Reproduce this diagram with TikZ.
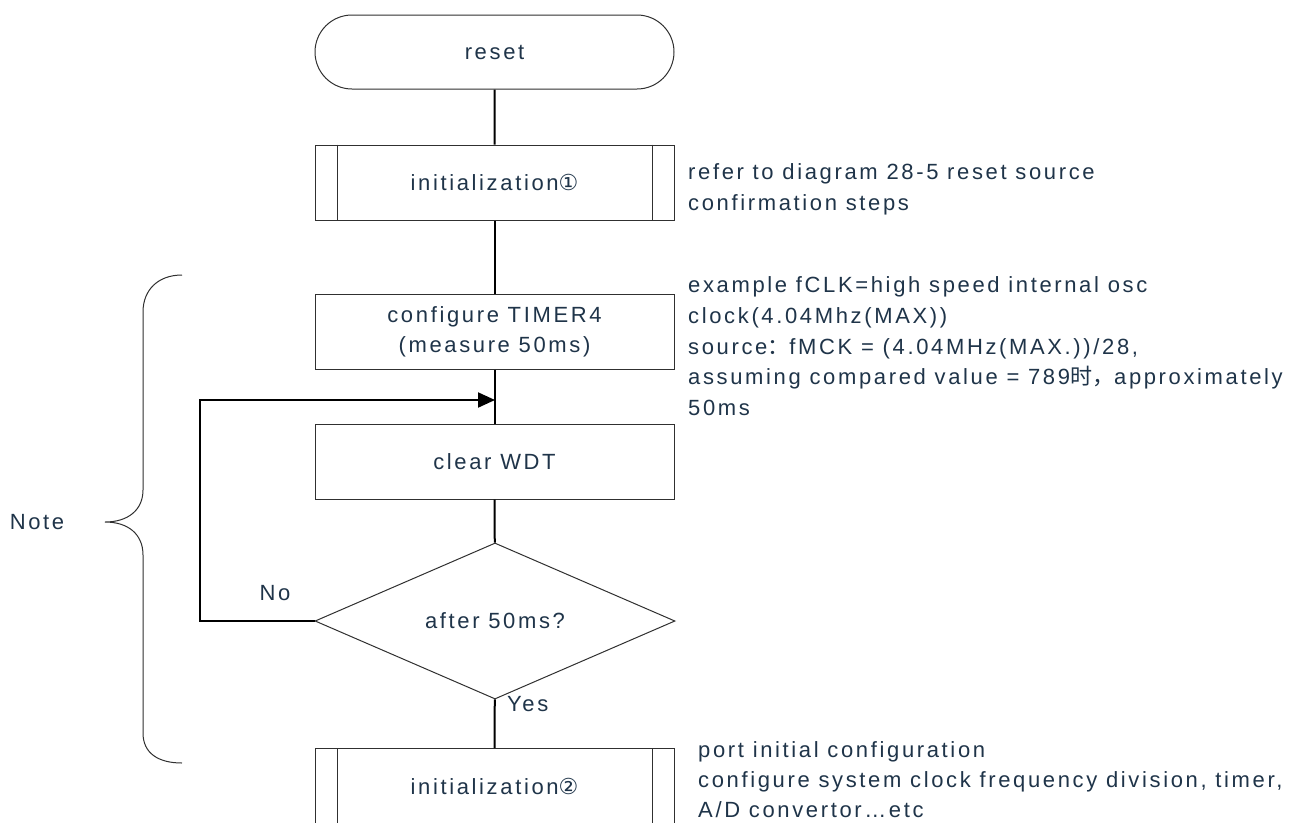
\documentclass[tikz,border=0pt]{standalone}
\usepackage{fontspec}
\setmainfont{Liberation Sans}[LetterSpace=12]
\newfontfamily\symf{DejaVu Sans}
\newfontfamily\cjkf{Noto Sans CJK SC}
\usetikzlibrary{shapes.misc,shapes.geometric,arrows.meta}
\definecolor{txt}{HTML}{1F3449}
\definecolor{boxc}{HTML}{303030}
\begin{document}
\begin{tikzpicture}[x=1pt,y=-1pt,
  every node/.style={text=txt,font=\fontsize{22}{30.7}\selectfont},
  flowbox/.style={draw=boxc,line width=1pt,minimum width=359pt,minimum height=75pt,inner sep=0pt,align=center},
  termbox/.style={rounded rectangle,draw=boxc,line width=1pt,minimum width=359pt,minimum height=74pt,inner sep=0pt},
  decbox/.style={diamond,draw=boxc,line width=1pt,minimum width=360pt,minimum height=130pt,inner sep=0pt},
  conn/.style={draw=black,line width=2pt},
  note/.style={align=left,anchor=base west,inner sep=0pt},
  lbl/.style={inner sep=0pt}]
\useasboundingbox (0,0) rectangle (1303,822);
\clip (0,0) rectangle (1303,822);
\fill[white] (0,0) rectangle (1303,822);

\node[termbox] (reset) at (494.5,52) {reset};
\node[flowbox] (init1) at (494.5,182.5) {initialization{\symf ①}};
\node[flowbox,font=\fontsize{22}{30}\selectfont] (timer) at (494.5,331.5) {configure TIMER4\\(measure 50ms)};
\node[flowbox] (wdt) at (494.5,461.5) {clear WDT};
\node[decbox] (dec) at (495,621) {after 50ms?};
\node[flowbox] (init2) at (494.5,786) {initialization{\symf ②}};

\foreach \n in {init1,init2}{
  \draw[boxc,line width=1pt] ([xshift=23pt]\n.north west) -- ([xshift=23pt]\n.south west);
  \draw[boxc,line width=1pt] ([xshift=-22pt]\n.north east) -- ([xshift=-22pt]\n.south east);
}

\draw[conn] (reset) -- (init1);
\draw[conn] (init1) -- (timer);
\draw[conn] (timer) -- (wdt);
\draw[conn] (wdt) -- (dec);
\draw[conn] (dec) -- (init2);

\coordinate (lp1) at (200,621);
\coordinate (lp2) at (200,400);
\coordinate (lm) at (495,400);
\draw[conn,-{Triangle[length=17pt,width=15pt]}] (dec.west) -- (lp1) -- (lp2) -- (lm);

\node[lbl] (no) at (275,593) {No};
\node[lbl,anchor=west] (yes) at (507,704) {Yes};

\draw[boxc,line width=1pt] (182,275) .. controls (158,275) and (143,290) .. (143,312) -- (143,490)
  .. controls (143,510) and (128,522) .. (105,522)
  .. controls (128,522) and (143,534) .. (143,555) -- (143,733)
  .. controls (143,753) and (158,763) .. (182,763);
\node[lbl] (notel) at (37,522) {Note};

\node[note] (n1) at (688,210.5) {refer to diagram 28-5 reset source\\confirmation steps};
\node[note] (n2) at (688,415.5) {example fCLK=high speed internal osc\\clock(4.04Mhz(MAX))\\source{\cjkf ：}fMCK = (4.04MHz(MAX.))/28,\\assuming compared value = 789{\cjkf 时，}approximately\\50ms};
\node[note,font=\fontsize{22}{30}\selectfont] (n3) at (698,817) {port initial configuration\\configure system clock frequency division, timer,\\A/D convertor…etc};
\end{tikzpicture}
\end{document}
